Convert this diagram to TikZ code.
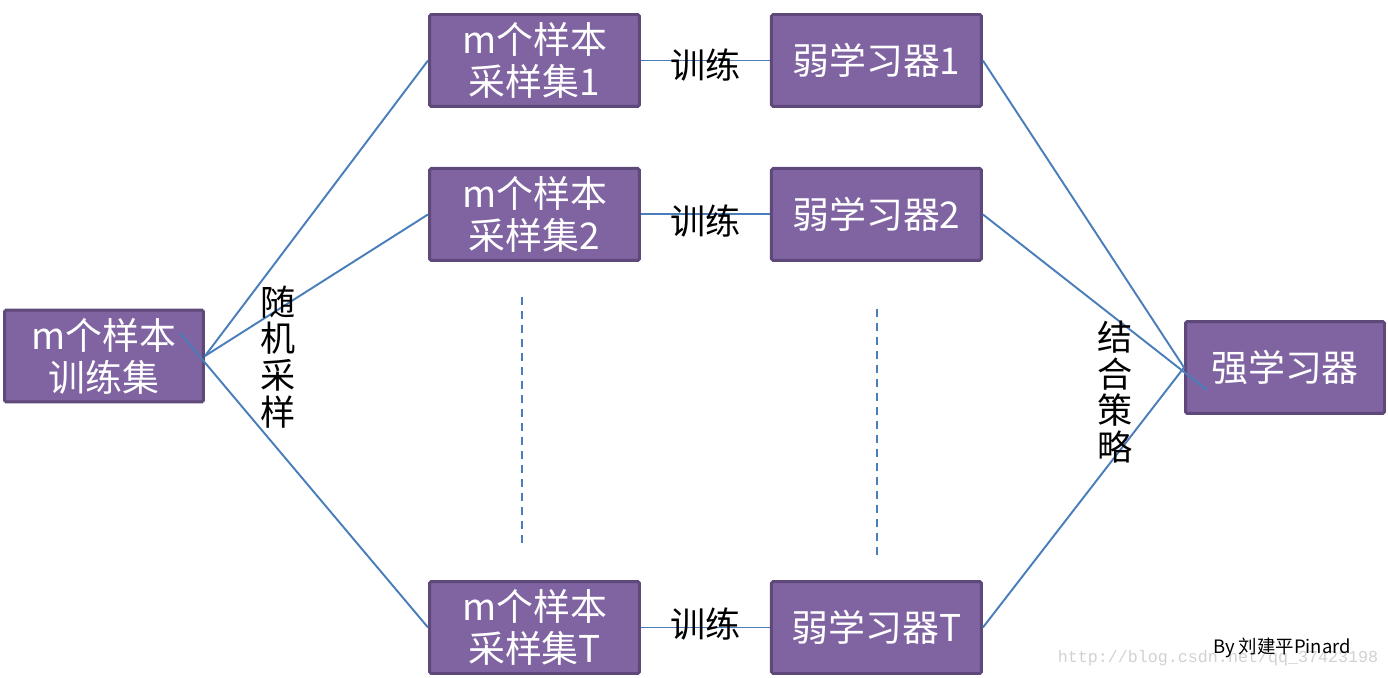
\documentclass[tikz,border=0pt]{standalone}
\usepackage{fontspec}
\setmainfont{Noto Sans CJK SC}
\newfontfamily\markfont{Liberation Mono}
\usepackage{xcolor}
\usepackage{tikz}
\usetikzlibrary{positioning}
\definecolor{boxfill}{HTML}{8064A2}
\definecolor{boxedge}{HTML}{5F497A}
\definecolor{linkblue}{HTML}{4A7EBB}
\tikzset{
  box/.style={rectangle, draw=boxedge, line width=1.7pt, fill=boxfill,
              text=white, align=center, rounded corners=1pt, inner sep=0pt,
              minimum width=4.2cm, minimum height=1.84cm,
              font=\fontsize{21}{24}\selectfont},
  narrowbox/.style={box, minimum width=3.98cm},
  link/.style={draw=linkblue, line width=1.1pt},
  dots/.style={link, dash pattern=on 0.16cm off 0.12cm},
  vlabel/.style={align=center, font=\fontsize{20}{21}\selectfont},
  trainlabel/.style={font=\fontsize{20}{24}\selectfont},
}
\begin{document}
\begin{tikzpicture}[x=0.02cm, y=-0.02cm]
  \useasboundingbox (0,0) rectangle (1388,678);

  % boxes
  \node[narrowbox] (train) at (104,356) {m个样本\\训练集};
  \node[box] (s1) at (534.5,60.5) {m个样本\\采样集1};
  \node[box, below=1.18cm of s1] (s2) {m个样本\\采样集2};
  \node[box] (sT) at (534.5,627.5) {m个样本\\采样集T};
  \node[box, right=2.58cm of s1] (w1) {弱学习器1};
  \node[box, right=2.58cm of s2] (w2) {弱学习器2};
  \node[box, right=2.58cm of sT] (wT) {弱学习器T};
  \node[narrowbox] (strong) at (1285,367.5) {强学习器};

  % free ends inside the boxes
  \coordinate (tin) at (180,333);
  \coordinate (sin) at (1207,390);

  % sampling
  \draw[link] (train.east) -- (s1.west);
  \draw[link] (train.east) -- (s2.west);
  \draw[link] (tin) -- (sT.west);
  \node[vlabel] (samp) at (278,357) {随\\机\\采\\样};

  % training
  \draw[link] (s1) -- node[trainlabel, yshift=-0.1cm] (t1) {训练} (w1);
  \draw[link] (s2) -- node[trainlabel, yshift=-0.13cm] (t2) {训练} (w2);
  \draw[link] (sT) -- node[trainlabel, yshift=0.06cm] (tT) {训练} (wT);

  % combining
  \draw[link] (w1.east) -- (strong.west);
  \draw[link] (w2.east) -- (sin);
  \draw[link] (wT.east) -- (strong.west);
  \node[vlabel] (comb) at (1115,392) {结\\合\\策\\略};

  % gaps
  \coordinate (ga) at (522,297);
  \coordinate (gb) at (522,543);
  \coordinate (gc) at (877,309);
  \coordinate (gd) at (877,555);
  \draw[dots] (ga) -- (gb);
  \draw[dots] (gc) -- (gd);

  % credit
  \node[text=black!18, font=\markfont\fontsize{9.5}{11}\selectfont] (mark)
    at (1218,658) {http://blog.csdn.net/qq\_37423198};
  \node[font=\fontsize{10.5}{12}\selectfont] (credit) at (1282,648) {By 刘建平Pinard};
\end{tikzpicture}
\end{document}
